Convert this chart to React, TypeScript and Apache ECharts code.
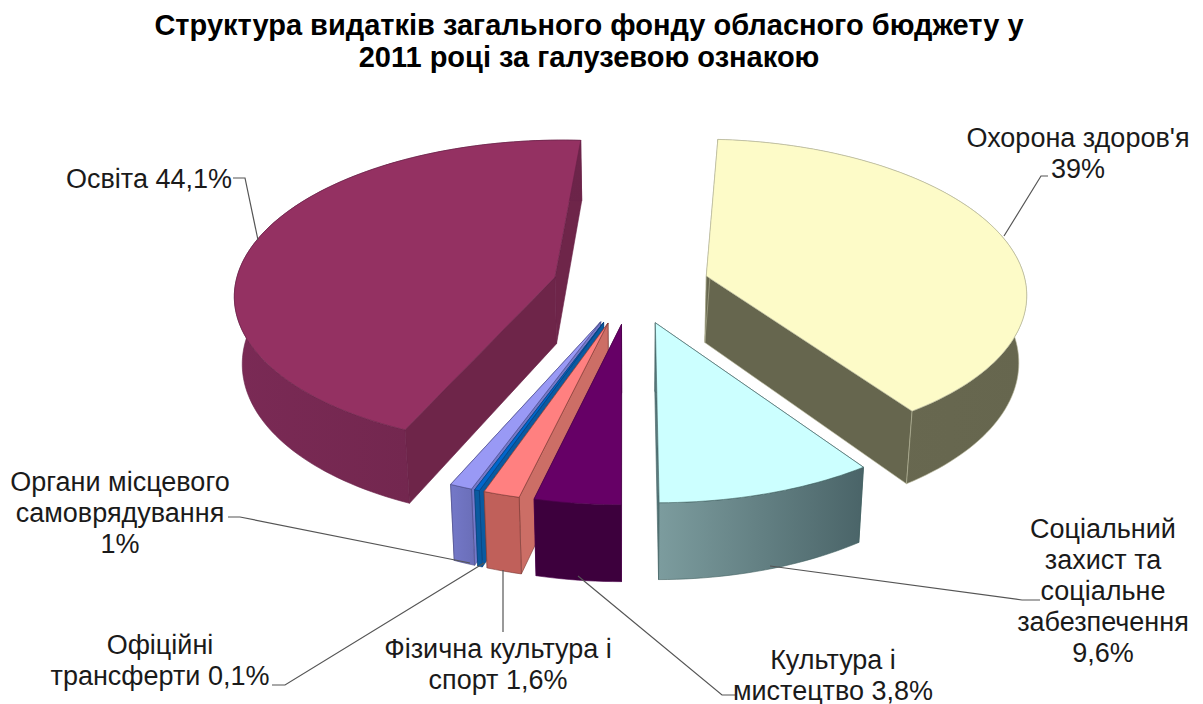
import React, { useEffect, useRef } from "react";
import * as echarts from "echarts";

const categories = ["Охорона здоров'я", "Соціальний захист та соціальне забезпечення", "Культура і мистецтво", "Фізична культура і спорт", "Офіційні трансферти", "Органи місцевого самоврядування", "Освіта"];
const values = [39, 9.6, 3.8, 1.6, 0.1, 1, 44.1];
const topColors = ["#FDFBC8", "#CCFFFF", "#660066", "#FF8080", "#0066CC", "#9999F5", "#943162"];
const sideColors = [["#6A6A52", "#66664E"], ["#7C9C9E", "#4A6468"], ["#3D003D", "#3D003D"], ["#C0605A", "#C0605A"], ["#0A5AA0", "#0A5AA0"], ["#7478C8", "#6A6EB8"], ["#7A2A55", "#6C2449"]];
const cutColors = ["#66664E", "#5A7A7E", "#3D003D", "#CC6E66", "#0A5AA0", "#7478C8", "#6E2549"];
const edgeColors = ["#b5b598", "#3f5f60", "#4a004a", "#7a3a36", "#0a3f78", "#4c4c88", "#6a2248"];
const drawOrder = [0, 6, 5, 4, 3, 2, 1];
const labelTexts = [
  "Охорона здоров'я\n39%",
  "Соціальний\nзахист та\nсоціальне\nзабезпечення\n9,6%",
  "Культура і\nмистецтво 3,8%",
  "Фізична культура і\nспорт 1,6%",
  "Офіційні\nтрансферти 0,1%",
  "Органи місцевого\nсамоврядування\n1%",
  "Освіта 44,1%",
];
const titleText = "Структура видатків загального фонду обласного бюджету у\n2011 році за галузевою ознакою";

// layout
const CX = 631, CY = 286, R = 320, RS = 153, K = 0.104, H = 67, EXPLODE = 0.246, START = 3.7, MIN_ANGLE = 0.8;
const labelPos: [number, number][] = [[1078, 153], [1103, 591], [833, 675], [498, 664], [160, 660], [120, 513], [149, 179]];
const leaders: [number, number][][] = [
  [[1004, 236], [1041, 176], [1048, 176]],
  [[770, 566], [1022, 600], [1040, 600]],
  [[578, 576], [722, 695], [735, 695]],
  [[503, 570], [503, 632]],
  [[484, 563], [285, 685], [272, 685]],
  [[470, 563], [240, 517], [228, 517]],
  [[258, 240], [245, 178], [233, 178]],
];

const rad = (d: number) => (d * Math.PI) / 180;
const shown = values.map((v) => Math.max((v / values.reduce((a, b) => a + b, 0)) * 360, MIN_ANGLE));
const scaleAngles = 360 / shown.reduce((a, b) => a + b, 0);

const proj = (X: number, V: number, down = false): number[] => {
  const d = 1 + K * V;
  let x = CX + (R * X) / d;
  let y = CY - (RS * V) / d;
  if (down) {
    x = CX + (x - CX) * 0.98;
    y += H / d;
  }
  return [x, y];
};

function renderSlice(params: any) {
  const i = params.dataIndex;
  let a0 = START;
  for (let j = 0; j < i; j++) a0 += shown[j] * scaleAngles;
  const a1 = a0 + shown[i] * scaleAngles;
  const mid = rad((a0 + a1) / 2);
  const ex = EXPLODE * Math.sin(mid);
  const ey = EXPLODE * Math.cos(mid);
  const arcTop: number[][] = [];
  const arcBot: number[][] = [];
  const steps = Math.max(2, Math.ceil((a1 - a0) / 1.5));
  for (let s = 0; s <= steps; s++) {
    const t = rad(a0 + ((a1 - a0) * s) / steps);
    arcTop.push(proj(ex + Math.sin(t), ey + Math.cos(t)));
    arcBot.push(proj(ex + Math.sin(t), ey + Math.cos(t), true));
  }
  const vTop = proj(ex, ey);
  const vBot = proj(ex, ey, true);
  const order = drawOrder.indexOf(i) * 10;
  const stroke = edgeColors[i];
  const wallFill = new echarts.graphic.LinearGradient(0, 0, 1, 0, [
    { offset: 0, color: sideColors[i][0] },
    { offset: 1, color: sideColors[i][1] },
  ]);
  const poly = (points: number[][], fill: any, z2: number) => ({
    type: "polygon",
    z2: order + z2,
    shape: { points },
    style: { fill, stroke, lineWidth: 0.6 },
    silent: true,
  });
  return {
    type: "group",
    children: [
      poly([vTop, arcTop[steps], arcBot[steps], vBot], cutColors[i], 1),
      poly([vTop, arcTop[0], arcBot[0], vBot], cutColors[i], 2),
      poly([...arcTop, ...arcBot.slice().reverse()], wallFill, 3),
      poly([vTop, ...arcTop], topColors[i], 4),
    ],
  };
}

export default function App() {
  const ref = useRef<HTMLDivElement>(null);
  useEffect(() => {
    const chart = echarts.init(ref.current!, undefined, { renderer: "svg" });
    chart.setOption({
      animation: false,
      backgroundColor: "#ffffff",
      title: {
        text: titleText,
        left: 584,
        top: 4,
        textAlign: "center",
        textStyle: { fontFamily: "Liberation Sans", fontSize: 29, fontWeight: "bold", color: "#000", lineHeight: 32 },
      },
      series: [
        {
          type: "custom",
          coordinateSystem: "none",
          data: values.map((v, i) => ({ value: v, name: categories[i] })),
          renderItem: renderSlice,
          silent: true,
        },
      ],
      graphic: [
        ...leaders.map((points) => ({
          type: "polyline",
          z: 5,
          silent: true,
          shape: { points },
          style: { stroke: "#555", lineWidth: 1.2, fill: "none" },
        })),
        ...labelTexts.map((text, i) => ({
          type: "text",
          z: 6,
          silent: true,
          style: {
            text,
            x: labelPos[i][0],
            y: labelPos[i][1],
            textAlign: "center",
            textVerticalAlign: "middle",
            font: '27px "Liberation Sans"',
            lineHeight: 31,
            fill: "#1a1a1a",
          },
        })),
      ],
    });
    return () => chart.dispose();
  }, []);
  return <div ref={ref} style={{ position: "fixed", left: 0, top: 0, width: 1203, height: 704 }} />;
}
